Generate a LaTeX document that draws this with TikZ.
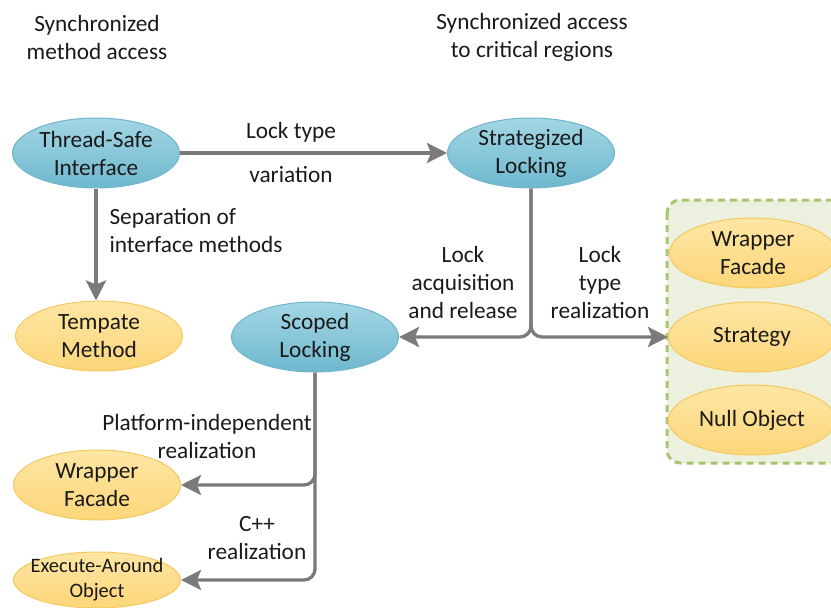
\documentclass[tikz,border=0pt]{standalone}
\usepackage{fontspec}
\setmainfont{Carlito}
\usetikzlibrary{shapes.geometric,arrows.meta}

\definecolor{blueTop}{RGB}{163,214,228}
\definecolor{blueBot}{RGB}{110,184,206}
\definecolor{blueLine}{RGB}{112,180,204}
\definecolor{yelTop}{RGB}{254,230,164}
\definecolor{yelBot}{RGB}{252,214,122}
\definecolor{yelLine}{RGB}{246,200,96}
\definecolor{connGray}{RGB}{122,122,122}
\definecolor{boxFill}{RGB}{235,241,222}
\definecolor{boxLine}{RGB}{168,198,112}
\definecolor{txt}{RGB}{26,26,26}

\newcommand{\mainsize}{\fontsize{23.3}{28}\selectfont}
\newcommand{\smallsize}{\fontsize{20.5}{25}\selectfont}

\begin{document}
\begin{tikzpicture}[x=1pt,y=-1pt,
  every node/.style={text=txt, font=\mainsize},
  pattern base/.style={ellipse, inner sep=0pt, minimum width=167pt,
    minimum height=70pt, align=center, line width=1pt},
  bluenode/.style={pattern base, top color=blueTop, bottom color=blueBot, draw=blueLine},
  yellownode/.style={pattern base, top color=yelTop, bottom color=yelBot, draw=yelLine},
  conn/.style={draw=connGray, line width=3.3pt, rounded corners=11pt,
    -{Stealth[length=20pt,width=20pt,inset=4pt]}},
  caption/.style={align=center},
  groupbox/.style={draw=boxLine, fill=boxFill, line width=3pt,
    dash pattern=on 7pt off 5pt, rounded corners=13pt}
]
\useasboundingbox (0,0) rectangle (831,608);
\clip (0,0) rectangle (831,608);

% column headings
\node[caption] (headA) at (97,37) {Synchronized\\method access};
\node[caption] (headB) at (532,37) {Synchronized access\\to critical regions};

% group of lock-type realizations
\draw[groupbox] (667,200) rectangle (850,463);

% pattern nodes
\node[bluenode] (tsi) at (96,153) {Thread-Safe\\Interface};
\node[bluenode] (sl) at (531,153) {Strategized\\Locking};
\node[yellownode] (tm) at (99,336) {Tempate\\Method};
\node[bluenode] (scl) at (315,337) {Scoped\\Locking};
\node[yellownode] (wfr) at (753,253) {Wrapper\\Facade};
\node[yellownode] (strat) at (752,337) {Strategy};
\node[yellownode] (nobj) at (752,420) {Null Object};
\node[yellownode] (wfl) at (97,485) {Wrapper\\Facade};
\node[yellownode, minimum height=56pt, inner xsep=-30pt, inner ysep=-6pt,
  font=\smallsize] (ea) at (97,580) {Execute-Around\\Object};

% connectors
\draw[conn] (tsi.east) -- (sl.west);
\draw[conn] (tsi.south) -- (tsi.south |- tm.north);
\draw[conn] (sl.south) -- (sl.south |- scl.east) -- (scl.east);
\draw[conn] (sl.south) -- (sl.south |- strat.west) -- (strat.west);
\draw[conn] (scl.south) -- (scl.south |- wfl.east) -- (wfl.east);
\draw[conn] (scl.south) -- (scl.south |- ea.east) -- (ea.east);

% connector labels
\node (lt1) at (291,132) {Lock type};
\node (lt2) at (291,175) {variation};
\node[anchor=west, align=left] (sep) at (106,231) {Separation of\\interface methods};
\node[caption] (acq) at (463,282) {Lock\\acquisition\\and release};
\node[caption] (typ) at (600,282) {Lock\\type\\realization};
\node[caption] (plat) at (207,436) {Platform-independent\\realization};
\node[caption] (cpp) at (257,538) {C++\\realization};
\end{tikzpicture}
\end{document}
